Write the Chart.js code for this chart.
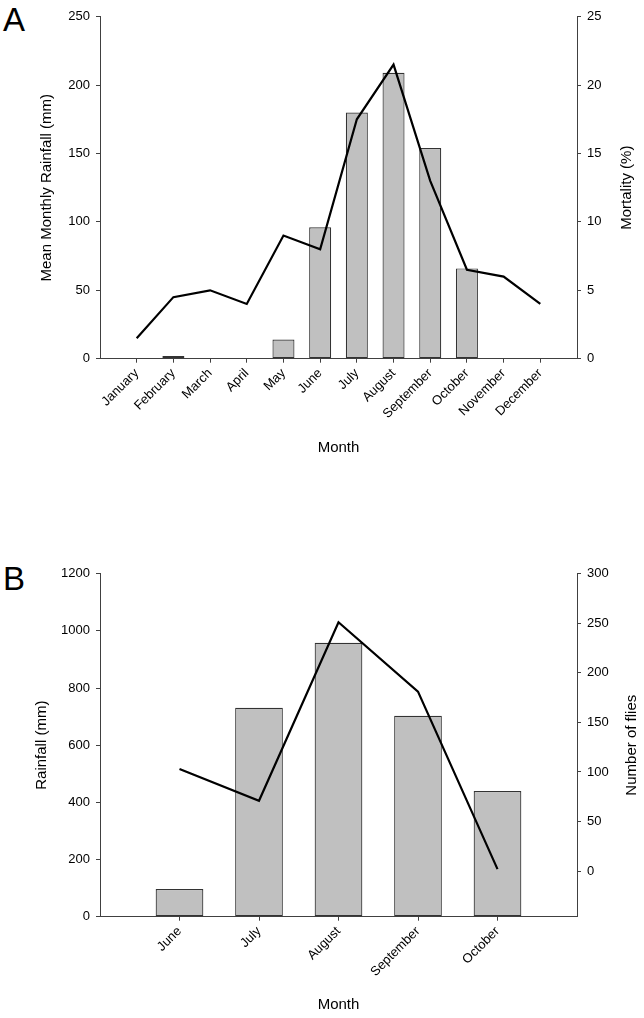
<!DOCTYPE html>
<html><head><meta charset="utf-8">
<script src="https://cdn.jsdelivr.net/npm/chart.js@4.4.0/dist/chart.umd.min.js"></script>
<style>
html,body{margin:0;padding:0;background:#fff;width:644px;height:1018px;overflow:hidden;position:relative;}
.lbl{position:absolute;font-family:"Liberation Sans",Arial,sans-serif;font-size:33px;color:#000;line-height:1;}
canvas{position:absolute;left:0;}
</style></head><body>
<div class="lbl" style="left:3px;top:2.7px">A</div>
<div class="lbl" style="left:3px;top:561.7px">B</div>
<canvas id="cA" width="644" height="509" style="top:0"></canvas>
<canvas id="cB" width="644" height="509" style="top:509px"></canvas>
<script>
// ---- Panel A data ----
const monthsA = ['January','February','March','April','May','June','July','August','September','October','November','December'];
const rainfallA = [0, 2, 0, 0, 14, 96, 180, 209, 154, 66, 0.5, 0];
const mortalityA = [1.5, 4.5, 5, 4, 9, 8, 17.5, 21.5, 13, 6.5, 6, 4];
const leftTicksA = [0, 50, 100, 150, 200, 250];
const rightTicksA = [0, 5, 10, 15, 20, 25];
// ---- Panel B data ----
const monthsB = ['June','July','August','September','October'];
const rainfallB = [97, 731, 958, 703, 440];
const fliesB = [103, 71, 251, 181, 2];
const leftTicksB = [0, 200, 400, 600, 800, 1000, 1200];
const rightTicksB = [0, 50, 100, 150, 200, 250, 300];

const FONT = '"Liberation Sans", Arial, sans-serif';
const AXIS = '#404040';

const rightTitle = {
  id: 'rightTitle',
  afterDraw(chart, args, opts) {
    const {ctx, chartArea} = chart;
    ctx.save();
    ctx.font = '15px ' + FONT;
    ctx.fillStyle = '#000';
    ctx.textAlign = 'center';
    ctx.textBaseline = 'middle';
    ctx.translate(opts.x, (chartArea.top + chartArea.bottom) / 2);
    ctx.rotate(-Math.PI / 2);
    ctx.fillText(opts.text, 0, 0);
    ctx.restore();
  }
};

function axisGrid() {
  return {display: true, offset: false, drawOnChartArea: false, drawTicks: true, tickLength: 4, color: AXIS, lineWidth: 1};
}

function makeChart(id, cfg) {
  const pts = (arr) => arr.map((v, i) => ({x: i, y: v}));
  return new Chart(document.getElementById(id), {
    type: 'bar',
    data: {
      datasets: [
        {type: 'line', data: pts(cfg.line), yAxisID: 'y2', borderColor: '#000', borderWidth: 2.2,
         pointRadius: 0, tension: 0, fill: false, order: 0},
        {type: 'bar', data: pts(cfg.bars), yAxisID: 'y', backgroundColor: '#c0c0c0', borderColor: '#333',
         borderWidth: 1.2, borderSkipped: false, barPercentage: 0.6, categoryPercentage: 1, order: 1}
      ]
    },
    options: {
      responsive: false, animation: false,
      layout: {padding: {top: cfg.padTop, bottom: cfg.padBottom, left: 0, right: 0}},
      plugins: {legend: {display: false}, tooltip: {enabled: false},
        rightTitle: {x: cfg.rightTitleX, text: cfg.rightTitle}},
      scales: {
        x: {
          type: 'linear', offset: false, min: -1, max: cfg.labels.length,
          grid: axisGrid(), border: {display: true, color: AXIS, width: 1},
          afterBuildTicks: (s) => { s.ticks = cfg.labels.map((_, i) => ({value: i})); },
          afterFit: (s) => { s.height = cfg.xHeight; },
          ticks: {autoSkip: false, minRotation: 45, maxRotation: 45, padding: 3, color: '#000',
            font: {family: FONT, size: 13}, callback: (v) => cfg.labels[v]},
          title: {display: true, text: 'Month', color: '#000', font: {family: FONT, size: 15}, padding: {top: 0, bottom: 0}}
        },
        y: {
          position: 'left', min: cfg.leftTicks[0], max: cfg.leftTicks[cfg.leftTicks.length - 1],
          grid: axisGrid(), border: {display: true, color: AXIS, width: 1},
          afterBuildTicks: (s) => { s.ticks = cfg.leftTicks.map(v => ({value: v})); },
          afterFit: (s) => { s.width = 100; },
          ticks: {padding: 6, color: '#000', font: {family: FONT, size: 13}, callback: (v) => String(v)},
          title: {display: true, text: cfg.leftTitle, color: '#000', font: {family: FONT, size: 15},
            padding: {top: cfg.leftTitleX - 9, bottom: 0}}
        },
        y2: {
          position: 'right', min: cfg.rightMin, max: cfg.rightTicks[cfg.rightTicks.length - 1],
          grid: axisGrid(), border: {display: true, color: AXIS, width: 1},
          afterBuildTicks: (s) => { s.ticks = cfg.rightTicks.map(v => ({value: v})); },
          afterFit: (s) => { s.width = 67; },
          ticks: {padding: 6, color: '#000', font: {family: FONT, size: 13}, callback: (v) => String(v)}
        }
      }
    },
    plugins: [rightTitle]
  });
}

makeChart('cA', {
  labels: monthsA, bars: rainfallA, line: mortalityA,
  leftTicks: leftTicksA, rightTicks: rightTicksA, rightMin: 0,
  leftTitle: 'Mean Monthly Rainfall (mm)', rightTitle: 'Mortality (%)',
  leftTitleX: 47, rightTitleX: 627,
  padTop: 16.7, padBottom: 52, xHeight: 98.3
});
makeChart('cB', {
  labels: monthsB, bars: rainfallB, line: fliesB,
  leftTicks: leftTicksB, rightTicks: rightTicksB, rightMin: -46,
  leftTitle: 'Rainfall (mm)', rightTitle: 'Number of flies',
  leftTitleX: 42, rightTitleX: 632,
  padTop: 64.7, padBottom: 4, xHeight: 97.3
});
</script>
</body></html>
